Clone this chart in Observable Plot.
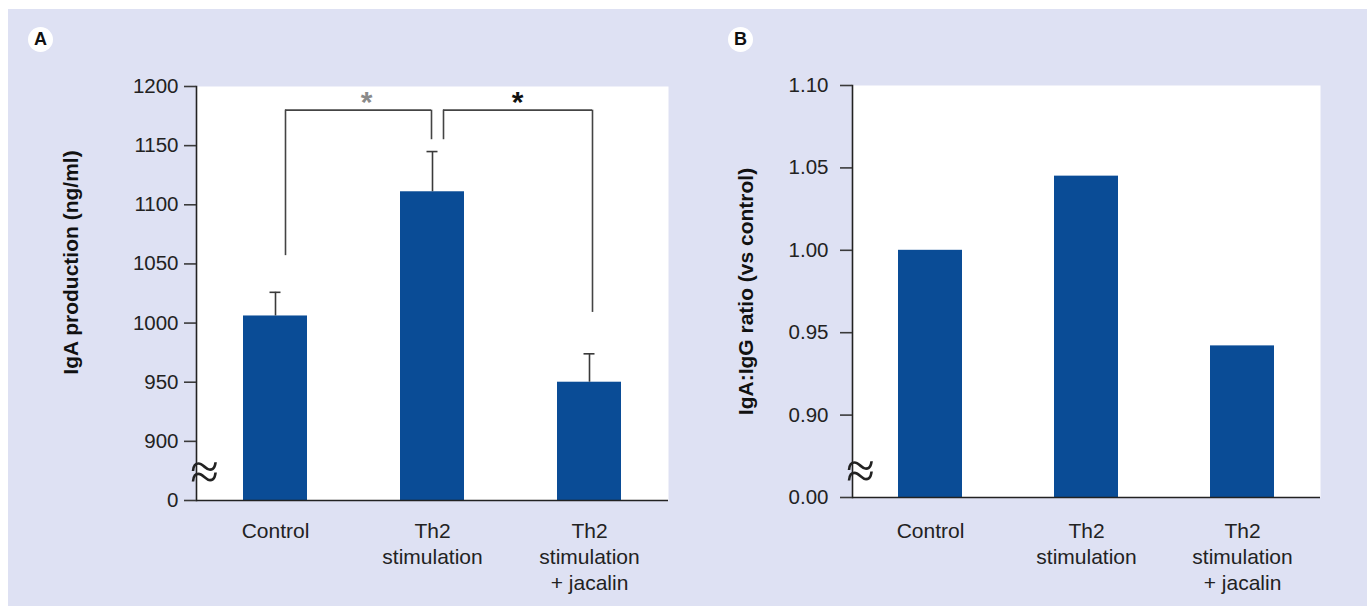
<!DOCTYPE html>
<html>
<head>
<meta charset="utf-8">
<script src="https://cdn.jsdelivr.net/npm/d3@7"></script>
<script src="https://cdn.jsdelivr.net/npm/@observablehq/plot@0.6"></script>
<style>
  html, body { margin: 0; padding: 0; background: #ffffff; }
  #wrap { position: absolute; left: 8px; top: 9px; width: 1359px; height: 597px; background: #dee1f3; overflow: hidden; }
  .panel { position: absolute; top: 0; }
  #pA { left: 0; }
  #pB { left: 682px; }
  .plabel { position: absolute; width: 25px; height: 25px; border-radius: 50%; background: #fff;
            font: bold 18px "Liberation Sans", Arial, sans-serif; text-align: center; line-height: 25px; color: #111; }
</style>
</head>
<body>
<div id="wrap">
  <div class="panel" id="pA"></div>
  <div class="panel" id="pB"></div>
  <div class="plabel" style="left:20px; top:18px;">A</div>
  <div class="plabel" style="left:720px; top:18px;">B</div>
</div>
<script>
// ---------------- data ----------------
const categories = ["Control", "Th2 stimulation", "Th2 stimulation + jacalin"];
const categoryLabels = ["Control", "Th2\nstimulation", "Th2\nstimulation\n+ jacalin"];

// Panel A: IgA production (ng/ml), mean and SEM
const igaMean = [1006, 1111, 950];
const igaErr = [20, 34, 24];
const igaTicks = [850, 900, 950, 1000, 1050, 1100, 1150, 1200];
const igaTickLabels = ["0", "900", "950", "1000", "1050", "1100", "1150", "1200"];

// significance brackets (panel A)
const sigFrom = ["Control", "Th2 stimulation"];
const sigTo = ["Th2 stimulation", "Th2 stimulation + jacalin"];
const sigTop = [1180, 1180];
const sigFromEnd = [1057, 1155];
const sigToEnd = [1155, 1009];
const sigMarks = ["*", "*"];

// Panel B: IgA:IgG ratio (vs control)
const ratioValues = [1.000, 1.045, 0.942];
const ratioTicks = [0.85, 0.90, 0.95, 1.00, 1.05, 1.10];
const ratioTickLabels = ["0.00", "0.90", "0.95", "1.00", "1.05", "1.10"];

const titleA = "IgA production (ng/ml)";
const titleB = "IgA:IgG ratio (vs control)";

// ---------------- styles ----------------
const BAR = "#0a4c96";
const AXIS = "#222";
const TICK = "#3a3a3a";
const FONT = "'Liberation Sans', Arial, Helvetica, sans-serif";
const BW = 64; // approx band width in px (for inset math)

const dataA = categories.map((c, i) => ({category: c, mean: igaMean[i], err: igaErr[i]}));
const dataB = categories.map((c, i) => ({category: c, value: ratioValues[i]}));
const sig = sigFrom.map((f, i) => ({from: f, to: sigTo[i], top: sigTop[i], fromEnd: sigFromEnd[i], toEnd: sigToEnd[i], mark: sigMarks[i]}));

const labelOf = d => categoryLabels[categories.indexOf(d)];

function commonStyle() {
  return {background: "transparent", fontFamily: FONT, fontSize: "20px", color: "#222", overflow: "visible"};
}

function breakMark(yValue) {
  return Plot.text(["≈"], {frameAnchor: "left", y: () => yValue, dx: 8, textAnchor: "middle", lineAnchor: "middle",
                           fontSize: 52, fontWeight: 200, fill: "#222", fontFamily: "DejaVu Sans"});
}

// ---------------- panel A ----------------
const baseA = igaTicks[0];
const breakA = 874;
const plotA = Plot.plot({
  width: 682, height: 597,
  marginLeft: 188, marginRight: 22, marginTop: 77, marginBottom: 106,
  style: commonStyle(),
  x: {domain: categories, padding: 0.593, paddingOuter: 0.2965},
  y: {domain: [igaTicks[0], igaTicks[igaTicks.length - 1]]},
  marks: [
    Plot.frame({fill: "white", stroke: null}),
    Plot.barY(dataA, {x: "category", y1: () => baseA, y2: "mean", fill: BAR}),
    Plot.ruleX(dataA, {x: "category", y1: "mean", y2: d => d.mean + d.err, stroke: TICK, strokeWidth: 1.6}),
    Plot.tickY(dataA, {x: "category", y: d => d.mean + d.err, insetLeft: BW / 2 - 5.5, insetRight: BW / 2 - 5.5, stroke: TICK, strokeWidth: 1.6}),
    // bracket 1
    Plot.ruleY([sig[0]], {y: "top", x1: "from", x2: "to", insetLeft: BW / 2 + 10, insetRight: BW / 2 + 1, stroke: "#444", strokeWidth: 1.6}),
    Plot.ruleX([sig[0]], {x: "from", y1: "top", y2: "fromEnd", dx: 10, stroke: "#444", strokeWidth: 1.6}),
    Plot.ruleX([sig[0]], {x: "to", y1: "top", y2: "toEnd", dx: -1, stroke: "#444", strokeWidth: 1.6}),
    Plot.text([sig[0]], {x: "to", y: "top", text: "mark", dx: -66, dy: 2, lineAnchor: "bottom", fontSize: 30, fontWeight: "bold", fill: "#8a8a8a"}),
    // bracket 2
    Plot.ruleY([sig[1]], {y: "top", x1: "from", x2: "to", insetLeft: BW / 2 + 11, insetRight: BW / 2 - 3, stroke: "#444", strokeWidth: 1.6}),
    Plot.ruleX([sig[1]], {x: "from", y1: "top", y2: "fromEnd", dx: 11, stroke: "#444", strokeWidth: 1.6}),
    Plot.ruleX([sig[1]], {x: "to", y1: "top", y2: "toEnd", dx: 3, stroke: "#444", strokeWidth: 1.6}),
    Plot.text([sig[1]], {x: "from", y: "top", text: "mark", dx: 85, dy: 2, lineAnchor: "bottom", fontSize: 30, fontWeight: "bold", fill: "#111"}),
    // axes
    Plot.frame({anchor: "left", stroke: AXIS, strokeWidth: 1.6}),
    Plot.ruleY([baseA], {stroke: AXIS, strokeWidth: 1.6}),
    Plot.axisY({ticks: igaTicks, tickFormat: d => igaTickLabels[igaTicks.indexOf(d)], tickSize: 12, tickPadding: 6, stroke: TICK, strokeWidth: 1.6, fontSize: 20.5, label: null}),
    Plot.axisX({tickSize: 0, tickPadding: 19, tickFormat: labelOf, fontSize: 21, lineHeight: 1.24, label: null}),
    breakMark(breakA),
    Plot.text([titleA], {frameAnchor: "left", rotate: -90, dx: -125.5, dy: -31, textAnchor: "middle", lineAnchor: "middle", fontSize: 21, fontWeight: "bold", fill: "#111"})
  ]
});
document.getElementById("pA").appendChild(plotA);

// ---------------- panel B ----------------
const baseB = ratioTicks[0];
const breakB = 0.866;
const plotB = Plot.plot({
  width: 677, height: 597,
  marginLeft: 162, marginRight: 47, marginTop: 76, marginBottom: 109,
  style: commonStyle(),
  x: {domain: categories, padding: 0.59, paddingOuter: 0.295},
  y: {domain: [ratioTicks[0], ratioTicks[ratioTicks.length - 1]]},
  marks: [
    Plot.frame({fill: "white", stroke: null}),
    Plot.barY(dataB, {x: "category", y1: () => baseB, y2: "value", fill: BAR}),
    Plot.frame({anchor: "left", stroke: AXIS, strokeWidth: 1.6}),
    Plot.ruleY([baseB], {stroke: AXIS, strokeWidth: 1.6}),
    Plot.axisY({ticks: ratioTicks, tickFormat: d => ratioTickLabels[ratioTicks.indexOf(d)], tickSize: 12, tickPadding: 12, stroke: TICK, strokeWidth: 1.6, fontSize: 20.5, label: null}),
    Plot.axisX({tickSize: 0, tickPadding: 22, tickFormat: labelOf, fontSize: 21, lineHeight: 1.24, label: null}),
    breakMark(breakB),
    Plot.text([titleB], {frameAnchor: "left", rotate: -90, dx: -106, dy: 0, textAnchor: "middle", lineAnchor: "middle", fontSize: 21, fontWeight: "bold", fill: "#111"})
  ]
});
document.getElementById("pB").appendChild(plotB);
</script>
</body>
</html>
